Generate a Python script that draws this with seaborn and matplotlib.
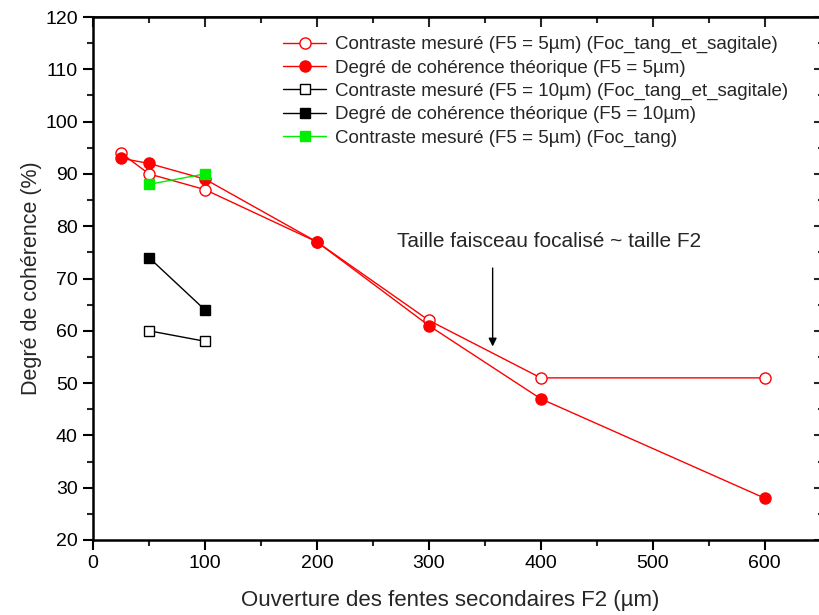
import matplotlib
matplotlib.use("Agg")
import matplotlib.pyplot as plt
import seaborn as sns
import pandas as pd
from matplotlib.ticker import MultipleLocator

x_5 = [25, 50, 100, 200, 300, 400, 600]
contraste_5 = [94, 90, 87, 77, 62, 51, 51]
theorique_5 = [93, 92, 89, 77, 61, 47, 28]
x_10 = [50, 100]
contraste_10 = [60, 58]
theorique_10 = [74, 64]
x_tang = [50, 100]
contraste_tang = [88, 90]

labels = [
    "Contraste mesuré (F5 = 5µm) (Foc_tang_et_sagitale)",
    "Degré de cohérence théorique (F5 = 5µm)",
    "Contraste mesuré (F5 = 10µm) (Foc_tang_et_sagitale)",
    "Degré de cohérence théorique (F5 = 10µm)",
    "Contraste mesuré (F5 = 5µm) (Foc_tang)",
]

sns.set_theme(style="white")
plt.rcParams['font.family'] = ['Liberation Sans', 'DejaVu Sans']

fig = plt.figure(figsize=(8.2, 6.15), dpi=100)
ax = fig.add_axes([93/820, 75/615, 731/820, 523/615])

series = [
    (x_5, contraste_5, dict(color='red', marker='o', markerfacecolor='white', markeredgecolor='red', markersize=8)),
    (x_5, theorique_5, dict(color='red', marker='o', markerfacecolor='red', markeredgecolor='red', markersize=8)),
    (x_10, contraste_10, dict(color='black', marker='s', markerfacecolor='white', markeredgecolor='black', markersize=7)),
    (x_10, theorique_10, dict(color='black', marker='s', markerfacecolor='black', markeredgecolor='black', markersize=7)),
    (x_tang, contraste_tang, dict(color='#00ee00', marker='s', markerfacecolor='#00ee00', markeredgecolor='#00ee00', markersize=7)),
]
for (xs, ys, st), lab in zip(series, labels):
    df = pd.DataFrame({"x": xs, "y": ys})
    sns.lineplot(data=df, x="x", y="y", ax=ax, label=lab, linewidth=1.0,
                 markeredgewidth=1.0, **st)

ax.set_xlim(0, 653)
ax.set_ylim(20, 120)
ax.xaxis.set_major_locator(MultipleLocator(100))
ax.xaxis.set_minor_locator(MultipleLocator(50))
ax.yaxis.set_major_locator(MultipleLocator(10))
ax.yaxis.set_minor_locator(MultipleLocator(5))
ax.tick_params(which='major', direction='out', length=7, width=1.5, labelsize=14, colors='black', pad=4)
ax.tick_params(which='minor', direction='out', length=4, width=1.5)
ax.tick_params(bottom=True, left=True, which='both')
for s in ax.spines.values():
    s.set_linewidth(1.8)
    s.set_color('black')

top = ax.secondary_xaxis('top')
top.xaxis.set_major_locator(MultipleLocator(100))
top.xaxis.set_minor_locator(MultipleLocator(50))
top.tick_params(which='major', direction='in', length=7, width=1.5, labeltop=False)
top.tick_params(which='minor', direction='in', length=4, width=1.5)
right = ax.secondary_yaxis('right')
right.yaxis.set_major_locator(MultipleLocator(10))
right.yaxis.set_minor_locator(MultipleLocator(5))
right.tick_params(which='major', direction='in', length=7, width=1.5, labelright=False)
right.tick_params(which='minor', direction='in', length=4, width=1.5)

ax.set_xlabel("Ouverture des fentes secondaires F2 (µm)", fontsize=16)
ax.set_ylabel("Degré de cohérence (%)", fontsize=15.5)
ax.xaxis.set_label_coords((450 - 93) / 731, (540 - 590) / 523)
ax.yaxis.set_label_coords((42 - 93) / 731, 0.5)

ax.legend(loc='upper left', bbox_to_anchor=((283 - 93) / 731, (540 - 36) / 523), frameon=False,
          fontsize=13.5, handlelength=2.3, handletextpad=0.45, labelspacing=0.33,
          borderaxespad=0, borderpad=0)

ax.text(272, 77, "Taille faisceau focalisé ~ taille F2", fontsize=15, va='center', ha='left')
ax.annotate("", xy=(357, 57), xytext=(357, 72),
            arrowprops=dict(arrowstyle='-|>', color='black', lw=1.0, mutation_scale=12,
                            shrinkA=0, shrinkB=0))

fig.savefig("out.png", dpi=100)
